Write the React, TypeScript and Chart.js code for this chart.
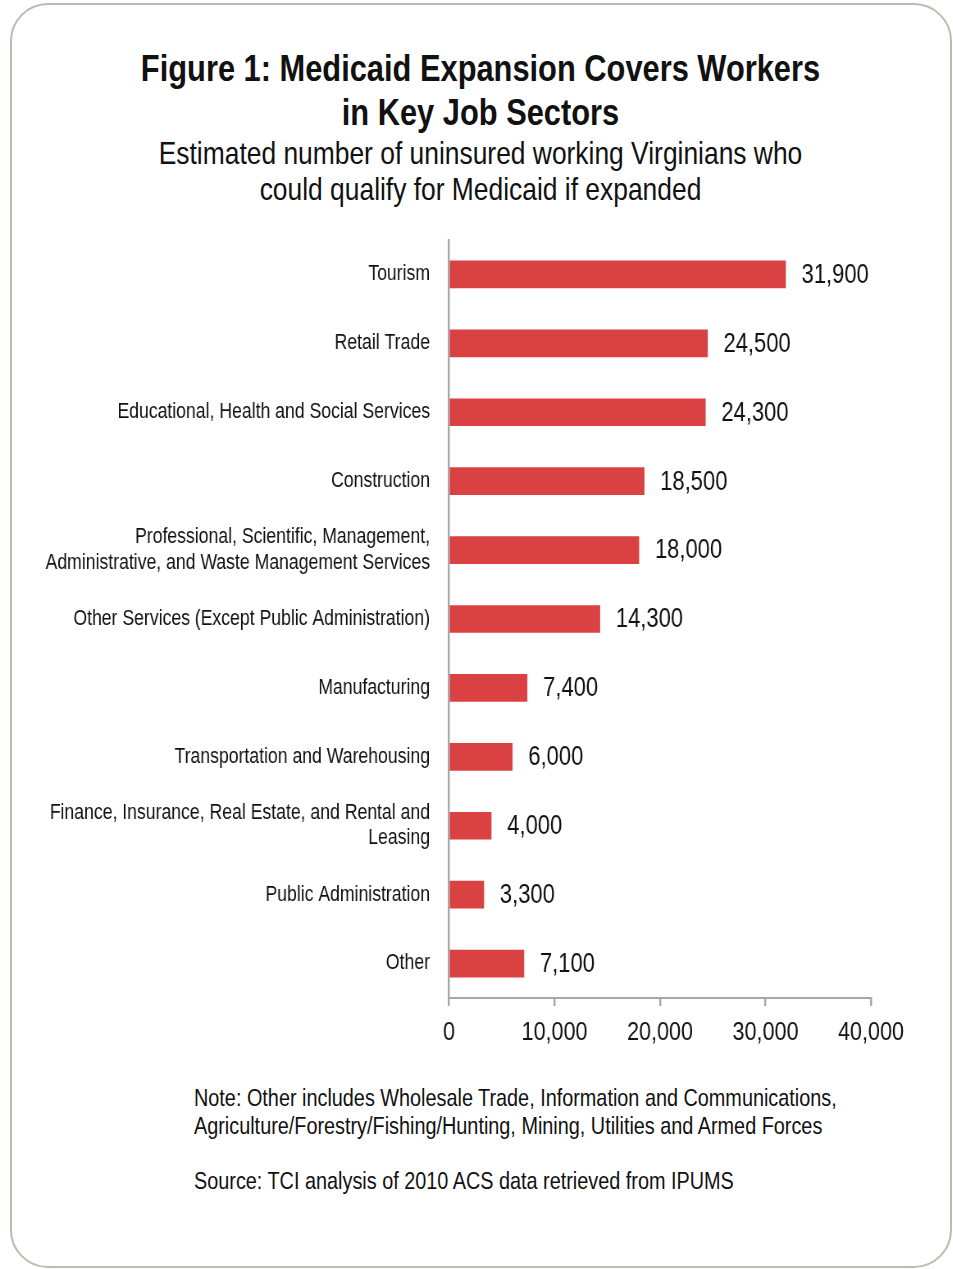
import React, { useEffect, useRef } from "react";
import { Chart, registerables } from "chart.js";

Chart.register(...registerables);

const categories: (string | string[])[] = [
  "Tourism",
  "Retail Trade",
  "Educational, Health and Social Services",
  "Construction",
  ["Professional, Scientific, Management,", "Administrative, and Waste Management Services"],
  "Other Services (Except Public Administration)",
  "Manufacturing",
  "Transportation and Warehousing",
  ["Finance, Insurance, Real Estate, and Rental and", "Leasing"],
  "Public Administration",
  "Other",
];
const workers: number[] = [31900, 24500, 24300, 18500, 18000, 14300, 7400, 6000, 4000, 3300, 7100];
const xTicks: number[] = [0, 10000, 20000, 30000, 40000];

// Arial Narrow is emulated by Liberation Sans (Arial metrics) squeezed horizontally.
const FONT = "'Liberation Sans', Arial, sans-serif";
const SQ = 0.82;
const fmt = (v: number) => v.toLocaleString("en-US");

const valueLabels = {
  id: "valueLabels",
  afterDatasetsDraw(chart: any) {
    const ctx = chart.ctx;
    const meta = chart.getDatasetMeta(0);
    ctx.save();
    ctx.font = `26.8px ${FONT}`;
    ctx.fillStyle = "#111111";
    ctx.textAlign = "left";
    ctx.textBaseline = "middle";
    meta.data.forEach((bar: any, i: number) => {
      ctx.fillText(fmt(workers[i]), bar.x + 16 / SQ, bar.y + 1);
    });
    ctx.restore();
  },
};

export default function App() {
  const ref = useRef<HTMLCanvasElement | null>(null);
  const CW = 1162;

  useEffect(() => {
    if (!ref.current) return;
    const chart = new Chart(ref.current, {
      type: "bar",
      data: {
        labels: categories,
        datasets: [
          {
            data: workers,
            backgroundColor: "#da4143",
            barThickness: 27,
          },
        ],
      },
      options: {
        indexAxis: "y",
        animation: false,
        responsive: false,
        maintainAspectRatio: false,
        layout: { padding: { left: 0, right: CW - 871 / SQ, top: 10, bottom: 0 } },
        plugins: {
          legend: { display: false },
          tooltip: { enabled: false },
          title: { display: false },
        },
        scales: {
          x: {
            min: 0,
            max: 40000,
            afterFit: (s: any) => {
              s.height = 62;
              s.paddingLeft = 0;
              s.paddingRight = 0;
            },
            afterBuildTicks: (s: any) => {
              s.ticks = xTicks.map((v) => ({ value: v }));
            },
            grid: {
              display: true,
              drawOnChartArea: false,
              drawTicks: true,
              tickLength: 8,
              color: "#a6a6a6",
              lineWidth: 2 / SQ,
            },
            border: { display: true, color: "#a6a6a6", width: 2 },
            ticks: {
              padding: 11,
              color: "#111111",
              font: { family: FONT, size: 26.3 },
              maxRotation: 0,
              callback: (v: any) => fmt(Number(v)),
            },
          },
          y: {
            afterFit: (s: any) => {
              s.width = 449 / SQ;
              s.paddingTop = 0;
              s.paddingBottom = 0;
            },
            grid: { display: false, drawTicks: false },
            border: { display: true, color: "#a6a6a6", width: 2 / SQ },
            ticks: {
              padding: 19 / SQ,
              color: "#111111",
              font: { family: FONT, size: 21.5, lineHeight: 1.17 },
            },
          },
        },
      },
      plugins: [valueLabels],
    });
    return () => chart.destroy();
  }, []);

  const squeezeC: React.CSSProperties = { transform: `scaleX(${SQ})`, transformOrigin: "50% 0" };
  const squeezeL: React.CSSProperties = { transform: `scaleX(${SQ})`, transformOrigin: "0 0" };

  return (
    <div style={{ position: "absolute", left: 0, top: 0, width: 953, height: 1269, background: "#fff", fontFamily: FONT, color: "#111", overflow: "hidden" }}>
      <div
        style={{
          position: "absolute",
          left: 10,
          top: 3,
          width: 942,
          height: 1265,
          border: "2.5px solid #c2bab0",
          borderRadius: 38,
          boxSizing: "border-box",
        }}
      />
      <div style={{ position: "absolute", left: 10, width: 941, top: 46, textAlign: "center", fontWeight: "bold", fontSize: 37.6, lineHeight: "44px", whiteSpace: "nowrap", ...squeezeC }}>
        Figure 1: Medicaid Expansion Covers Workers
        <br />
        in Key Job Sectors
      </div>
      <div style={{ position: "absolute", left: 10, width: 941, top: 135, textAlign: "center", fontSize: 32.2, lineHeight: "36px", whiteSpace: "nowrap", ...squeezeC }}>
        Estimated number of uninsured working Virginians who
        <br />
        could qualify for Medicaid if expanded
      </div>
      <canvas
        ref={ref}
        width={CW}
        height={830}
        style={{ position: "absolute", left: 0, top: 230, width: CW, height: 830, ...squeezeL }}
      />
      <div style={{ position: "absolute", left: 194, top: 1084, fontSize: 24.2, lineHeight: "28px", whiteSpace: "nowrap", ...squeezeL }}>
        Note: Other includes Wholesale Trade, Information and Communications,
        <br />
        Agriculture/Forestry/Fishing/Hunting, Mining, Utilities and Armed Forces
      </div>
      <div style={{ position: "absolute", left: 194, top: 1167, fontSize: 24.2, lineHeight: "28px", whiteSpace: "nowrap", ...squeezeL }}>
        Source: TCI analysis of 2010 ACS data retrieved from IPUMS
      </div>
    </div>
  );
}
